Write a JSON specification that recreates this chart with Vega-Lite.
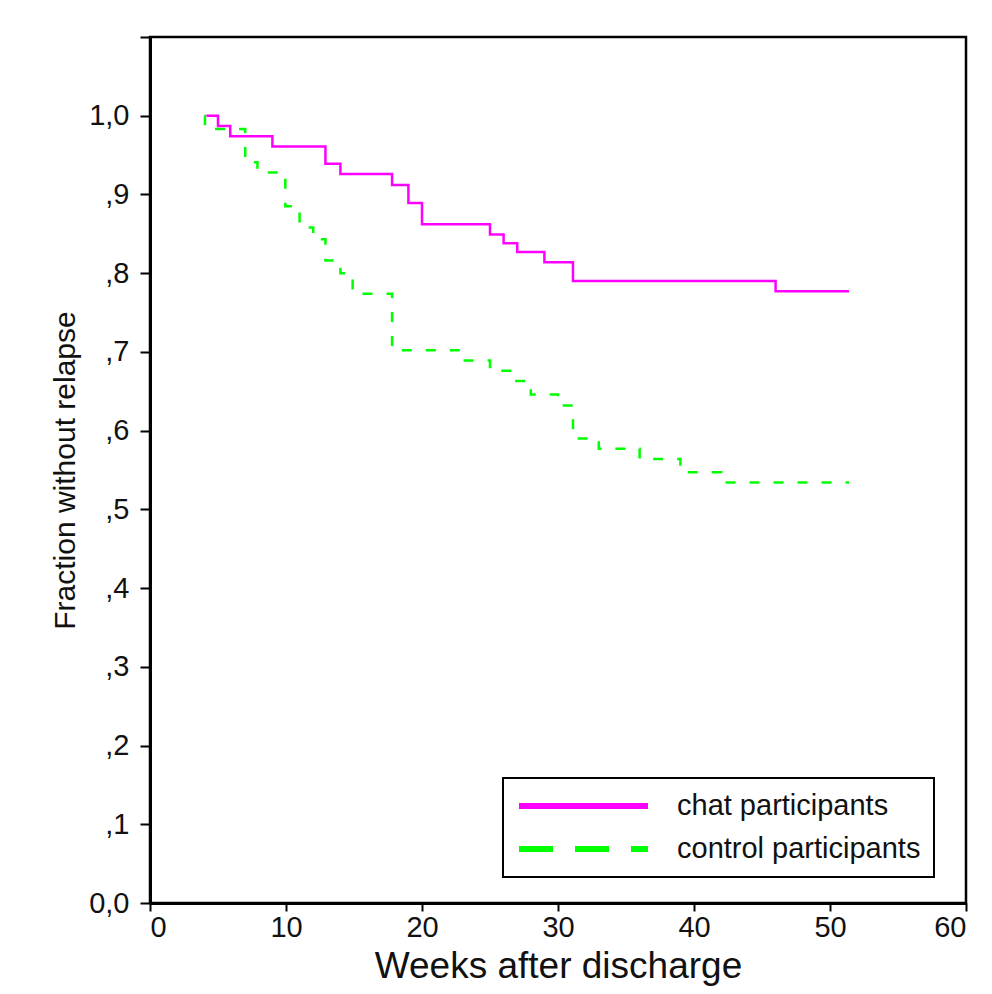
{
  "$schema": "https://vega.github.io/schema/vega-lite/v6.json",
  "width": 816,
  "height": 866,
  "padding": {"left": 150, "top": 37, "right": 26, "bottom": 91},
  "autosize": {"type": "none"},
  "background": "white",
  "config": {
    "font": "Liberation Sans",
    "view": {"stroke": "#000", "strokeWidth": 2.5},
    "axis": {"grid": false, "domainColor": "#000", "tickColor": "#000", "labelColor": "#111", "titleColor": "#111", "titleFontWeight": "normal"}
  },
  "data": {"values": [
    {"series": "chat participants", "weeks": 4.15, "s": 1.0},
    {"series": "chat participants", "weeks": 5.0, "s": 0.987},
    {"series": "chat participants", "weeks": 5.9, "s": 0.974},
    {"series": "chat participants", "weeks": 9.0, "s": 0.961},
    {"series": "chat participants", "weeks": 12.9, "s": 0.939},
    {"series": "chat participants", "weeks": 14.0, "s": 0.926},
    {"series": "chat participants", "weeks": 17.8, "s": 0.912},
    {"series": "chat participants", "weeks": 19.0, "s": 0.889},
    {"series": "chat participants", "weeks": 20.0, "s": 0.862},
    {"series": "chat participants", "weeks": 25.0, "s": 0.849},
    {"series": "chat participants", "weeks": 26.0, "s": 0.838},
    {"series": "chat participants", "weeks": 27.0, "s": 0.827},
    {"series": "chat participants", "weeks": 29.0, "s": 0.814},
    {"series": "chat participants", "weeks": 31.1, "s": 0.790},
    {"series": "chat participants", "weeks": 46.0, "s": 0.777},
    {"series": "chat participants", "weeks": 51.4, "s": 0.777},
    {"series": "control participants", "weeks": 4.0, "s": 1.0},
    {"series": "control participants", "weeks": 4.04, "s": 0.983},
    {"series": "control participants", "weeks": 7.0, "s": 0.941},
    {"series": "control participants", "weeks": 7.9, "s": 0.928},
    {"series": "control participants", "weeks": 9.95, "s": 0.885},
    {"series": "control participants", "weeks": 11.0, "s": 0.858},
    {"series": "control participants", "weeks": 12.0, "s": 0.843},
    {"series": "control participants", "weeks": 12.9, "s": 0.816},
    {"series": "control participants", "weeks": 14.0, "s": 0.800},
    {"series": "control participants", "weeks": 14.9, "s": 0.774},
    {"series": "control participants", "weeks": 17.8, "s": 0.702},
    {"series": "control participants", "weeks": 23.0, "s": 0.689},
    {"series": "control participants", "weeks": 25.0, "s": 0.676},
    {"series": "control participants", "weeks": 26.8, "s": 0.663},
    {"series": "control participants", "weeks": 28.0, "s": 0.646},
    {"series": "control participants", "weeks": 30.0, "s": 0.632},
    {"series": "control participants", "weeks": 31.1, "s": 0.590},
    {"series": "control participants", "weeks": 33.0, "s": 0.577},
    {"series": "control participants", "weeks": 36.0, "s": 0.564},
    {"series": "control participants", "weeks": 39.0, "s": 0.547},
    {"series": "control participants", "weeks": 42.0, "s": 0.534},
    {"series": "control participants", "weeks": 51.4, "s": 0.534}
  ]},
  "encoding": {
    "x": {
      "field": "weeks", "type": "quantitative",
      "scale": {"domain": [0, 60], "nice": false, "zero": false},
      "axis": {
        "title": "Weeks after discharge", "values": [0, 10, 20, 30, 40, 50, 60],
        "domainWidth": 3, "tickWidth": 2, "tickSize": 8,
        "labelFontSize": 29, "labelPadding": 2, "titleFontSize": 37, "titlePadding": 6
      }
    },
    "y": {
      "field": "s", "type": "quantitative",
      "scale": {"domain": [0, 1.1], "nice": false, "zero": false},
      "axis": {
        "title": "Fraction without relapse",
        "values": [0, 0.1, 0.2, 0.3, 0.4, 0.5, 0.6, 0.7, 0.8, 0.9, 1.0, 1.1],
        "labelExpr": "datum.value > 1.05 ? '' : datum.value == 0 ? '0,0' : datum.value == 1 ? '1,0' : ',' + round(datum.value * 10)",
        "domainWidth": 3, "tickWidth": 2, "tickSize": 10,
        "labelFontSize": 29, "labelPadding": 11, "titleFontSize": 30, "titlePadding": 8
      }
    }
  },
  "layer": [
    {
      "transform": [{"filter": "datum.series === 'control participants'"}],
      "mark": {"type": "line", "interpolate": "step-after", "strokeWidth": 2.5, "color": "#00ff00", "strokeDash": [10, 14]}
    },
    {
      "transform": [{"filter": "datum.series === 'chat participants'"}],
      "mark": {"type": "line", "interpolate": "step-after", "strokeWidth": 2.5},
      "encoding": {
        "color": {
          "field": "series", "type": "nominal",
          "scale": {"domain": ["chat participants", "control participants"], "range": ["#ff00ff", "#00ff00"]},
          "legend": {
            "title": null, "orient": "none", "legendX": 353, "legendY": 741,
            "strokeColor": "#000", "fillColor": "white",
            "padding": 13, "symbolType": "stroke", "symbolSize": 16641, "symbolStrokeWidth": 6,
            "clipHeight": 30,
            "labelFontSize": 29, "labelOffset": 26, "rowPadding": 13, "labelColor": "#111", "labelLimit": 500,
            "encode": {
              "legend": {"update": {"strokeWidth": {"value": 2}}}
            }
          }
        },
        "strokeDash": {
          "field": "series", "type": "nominal",
          "scale": {"domain": ["chat participants", "control participants"], "range": [[1, 0], [34, 22]]}
        }
      }
    }
  ]
}
